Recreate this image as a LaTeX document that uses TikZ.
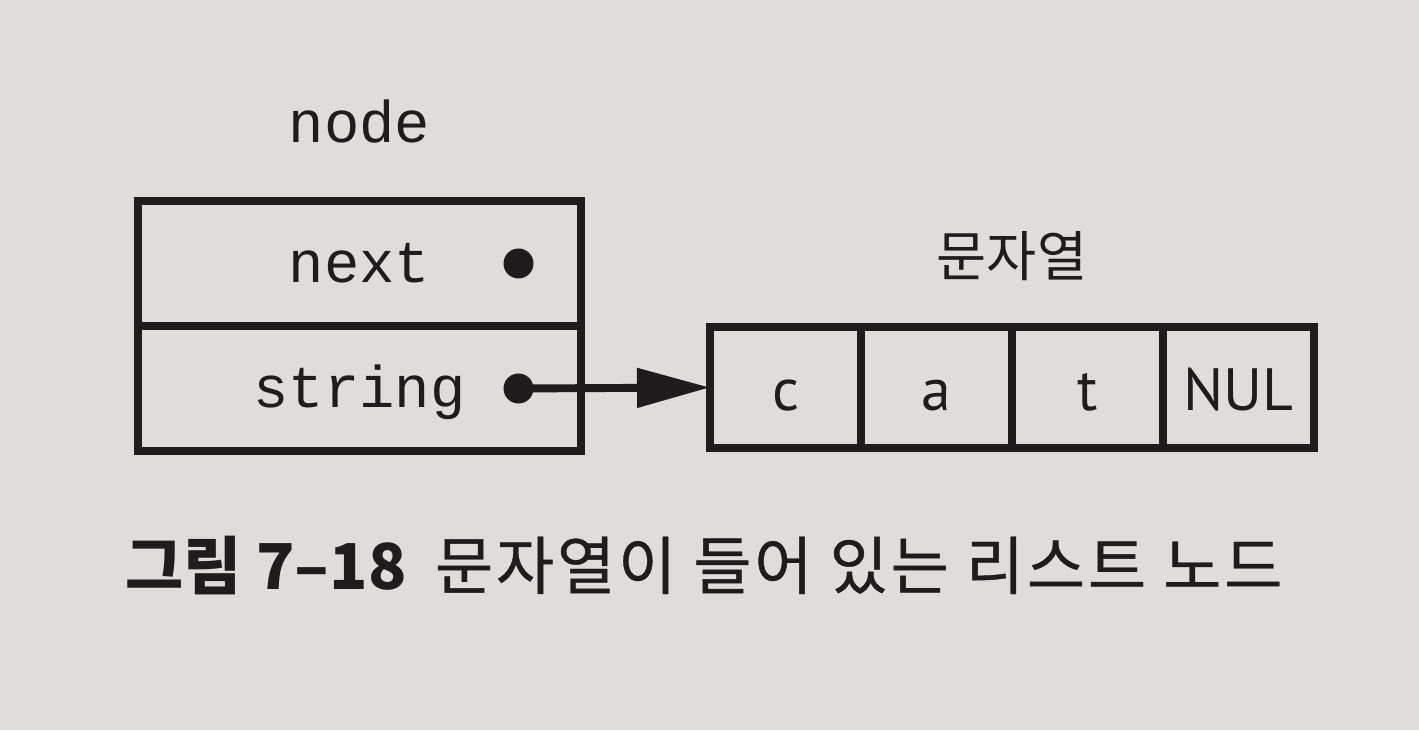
\documentclass[tikz,border=0pt]{standalone}
\usepackage{fontspec}
\setmainfont{PT Sans}
\newfontfamily\mono{Liberation Mono}
\newfontfamily\cjk{Noto Sans CJK KR}
\newfontfamily\cjkmid[FakeBold=0.6, LetterSpace=4.5]{Noto Sans CJK KR}
\usetikzlibrary{positioning,arrows.meta,backgrounds}
\definecolor{222_221_217}{RGB}{222, 221, 217}
\definecolor{30_28_29}{RGB}{30, 28, 29}

\begin{document}
\begin{tikzpicture}[
        background rectangle/.style={fill=222_221_217},
        show background rectangle,
        inner frame sep=0pt,
        every node/.style={text=30_28_29},
        field/.style={
            draw=30_28_29, line width=4.5pt, outer sep=0pt, inner sep=0pt,
            minimum width=8.86cm, minimum height=2.5cm,
            text height=0.78cm, text depth=0cm,
            font=\mono\fontsize{33.5}{40}\selectfont
        },
        cell/.style={
            draw=30_28_29, line width=4.5pt, outer sep=0pt, inner sep=0pt,
            minimum width=3.02cm, minimum height=2.42cm,
            text height=0.94cm, text depth=0cm,
            font=\fontsize{34}{40}\selectfont
        },
        dot/.style={circle, fill=30_28_29, inner sep=0pt, minimum size=0.6cm},
        pointer/.style={draw=30_28_29, line width=4.5pt, -{Triangle[length=1.46cm, width=0.76cm]}}
    ]
    \useasboundingbox (0,0) rectangle (28.38,14.6);

    % node struct
    \node[field] (next) at (7.19,9.33) {next};
    \node[field, below=0pt of next] (string) {string};
    \node[anchor=base, font=\mono\fontsize{33.5}{40}\selectfont] (nodelabel)
        at ([yshift=1.16cm]next.north) {node};
    \node[dot] (nextdot) at ([xshift=-1.25cm]next.east) {};
    \node[dot] (stringdot) at ([xshift=-1.25cm]string.east) {};

    % string cells
    \node[cell] (cellc) at (15.71,6.85) {c};
    \node[cell, right=0pt of cellc] (cella) {a};
    \node[cell, right=0pt of cella] (cellt) {t};
    \node[cell, right=0pt of cellt] (cellnul) {NUL};
    \node[anchor=base, font=\cjk\fontsize{31}{36}\selectfont] (strlabel)
        at ([yshift=1.0cm]cella.north east) {문자열};

    \draw[pointer] (stringdot.center) -- (cellc.west);

    % caption
    \node[anchor=base west, inner sep=0pt, font=\cjkmid\fontsize{36}{42}\selectfont] (caption)
        at (2.5,2.82) {{\cjk\bfseries 그림 7–18}\hspace{0.45em}문자열이 들어 있는 리스트 노드};
\end{tikzpicture}
\end{document}
